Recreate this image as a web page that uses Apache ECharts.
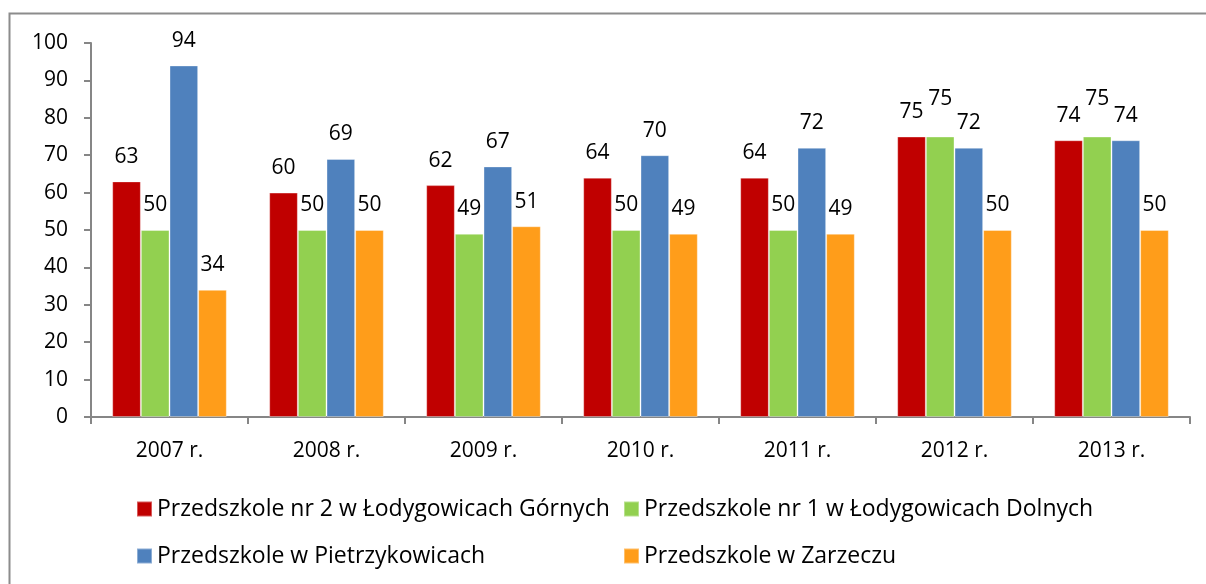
<!DOCTYPE html>
<html>
<head>
<meta charset="utf-8">
<script src="https://cdn.jsdelivr.net/npm/echarts@6/dist/echarts.min.js"></script>
<style>html,body{margin:0;padding:0;background:#fff}#c{width:1206px;height:584px}</style>
</head>
<body>
<div id="c"></div>
<script>
const categories = ['2007 r.', '2008 r.', '2009 r.', '2010 r.', '2011 r.', '2012 r.', '2013 r.'];
const seriesNames = [
  'Przedszkole nr 2 w Łodygowicach Górnych',
  'Przedszkole nr 1 w Łodygowicach Dolnych',
  'Przedszkole w Pietrzykowicach',
  'Przedszkole w Zarzeczu'
];
const lodygowiceGorne = [63, 60, 62, 64, 64, 75, 74];
const lodygowiceDolne = [50, 50, 49, 50, 50, 75, 75];
const pietrzykowice = [94, 69, 67, 70, 72, 72, 74];
const zarzecze = [34, 50, 51, 49, 49, 50, 50];
const colors = ['#C00000', '#92D050', '#4F81BD', '#FF9D1A'];

const FONT = '"Open Sans", "Noto Sans", sans-serif';
const values = [lodygowiceGorne, lodygowiceDolne, pietrzykowice, zarzecze];

// lift a label when it would collide with the neighbouring bar's label (same height)
function seriesData(i) {
  return values[i].map((v, k) => {
    const prev = i > 0 ? values[i - 1][k] : null;
    if (prev !== null && Math.abs(prev - v) <= 1 && i === 1) {
      return {value: v, label: {offset: [0, -13]}};
    }
    return v;
  });
}

const chart = echarts.init(document.getElementById('c'), null, {renderer: 'canvas'});
const legendPos = [
  {left: 136, top: 497},
  {left: 623, top: 497},
  {left: 136, top: 544},
  {left: 623, top: 544}
];
chart.setOption({
  animation: false,
  color: colors,
  textStyle: {fontFamily: FONT},
  graphic: [
    {type: 'polyline', shape: {points: [[9.5, 600], [9.5, 13.5], [1220, 13.5]]},
     style: {stroke: '#8c8c8c', lineWidth: 2, fill: null}, silent: true}
  ],
  grid: {left: 91, right: 16, top: 43, bottom: 167, containLabel: false},
  legend: legendPos.map((p, i) => ({
    data: [seriesNames[i]],
    left: p.left, top: p.top, padding: 0,
    itemWidth: 15, itemHeight: 15, icon: 'rect', itemGap: 0,
    textStyle: {fontFamily: FONT, fontSize: 23, lineHeight: 24, color: '#000'}
  })),
  xAxis: {
    type: 'category',
    data: categories,
    axisLine: {lineStyle: {color: '#868686', width: 2}},
    axisTick: {show: true, alignWithLabel: false, length: 7, lineStyle: {color: '#868686', width: 2}},
    axisLabel: {color: '#000', fontSize: 21, fontFamily: FONT, margin: 24}
  },
  yAxis: {
    type: 'value', min: 0, max: 100, interval: 10,
    axisLine: {show: true, lineStyle: {color: '#868686', width: 2}},
    axisTick: {show: true, length: 7, lineStyle: {color: '#868686', width: 2}},
    splitLine: {show: false},
    axisLabel: {color: '#000', fontSize: 21, fontFamily: FONT, margin: 23}
  },
  series: values.map((v, i) => ({
    name: seriesNames[i],
    type: 'bar',
    data: seriesData(i),
    barGap: '0%',
    barCategoryGap: '27%',
    itemStyle: {color: colors[i], borderColor: 'rgba(255,255,255,0.35)', borderWidth: 1},
    label: {show: true, position: 'top', distance: 14, color: '#000', fontSize: 21, fontFamily: FONT}
  }))
});
</script>
</body>
</html>
